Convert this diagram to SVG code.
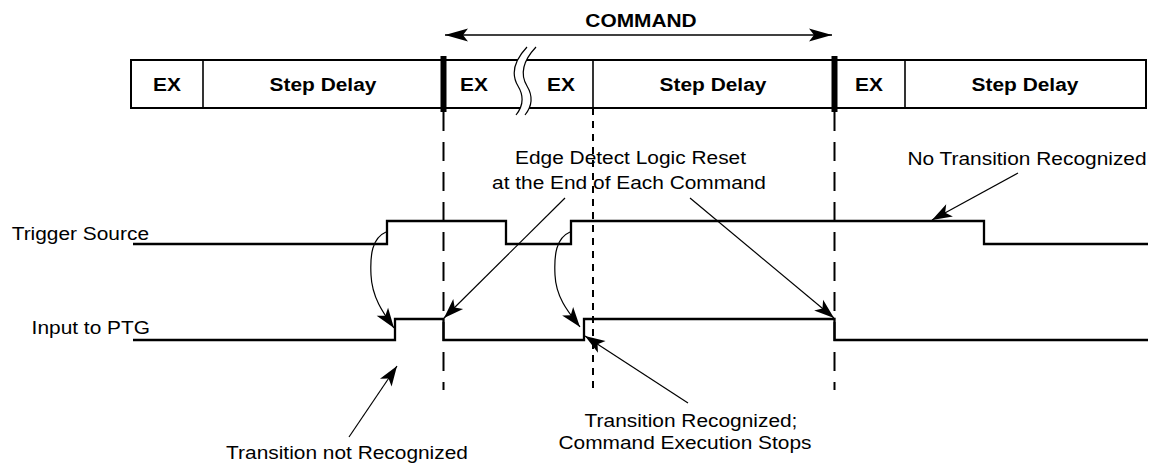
<svg xmlns="http://www.w3.org/2000/svg" width="1153" height="463" viewBox="0 0 1153 463">
<style>
text{font-family:"Liberation Sans",Arial,sans-serif;font-size:18.5px;fill:#000}
.b{font-weight:bold}
.m{text-anchor:middle}
.e{text-anchor:end}
.box{fill:#fff;stroke:#000;stroke-width:2}
.div{stroke:#000;stroke-width:1.6}
.thick{stroke:#000;stroke-width:6}
.sig{fill:none;stroke:#000;stroke-width:2.3}
.dash{stroke:#000;stroke-width:2;stroke-dasharray:19 11}
.dot{stroke:#000;stroke-width:2;stroke-dasharray:7 6}
.call{fill:none;stroke:#000;stroke-width:1.2;marker-end:url(#ah)}
</style>
<defs>
<marker id="ah" markerUnits="userSpaceOnUse" viewBox="-21 -8 22 16" markerWidth="22" markerHeight="16" refX="0" refY="0" orient="auto">
<path d="M0,0 L-20,-7 L-15,0 L-20,7 Z" fill="#000"/>
</marker>
<marker id="big" markerUnits="userSpaceOnUse" viewBox="-24 -8 25 16" markerWidth="25" markerHeight="16" refX="0" refY="0" orient="auto-start-reverse">
<path d="M0,0 L-23,-6.5 L-18,0 L-23,6.5 Z" fill="#000"/>
</marker>
</defs>

<g id="command-bar">
<rect class="box" x="131" y="60" width="1015" height="48"/>
<line class="div" x1="203" y1="60" x2="203" y2="108"/>
<line class="div" x1="593" y1="60" x2="593" y2="108"/>
<line class="div" x1="905" y1="60" x2="905" y2="108"/>
<line class="thick" x1="443.5" y1="56" x2="443.5" y2="112"/>
<line class="thick" x1="834.5" y1="56" x2="834.5" y2="112"/>
<path d="M527,47 C512,63 512,76 518,86 C524,96 524,105 516,115 L525,115 C533,105 533,96 527,86 C521,76 521,63 536,47 Z" fill="#fff" stroke="none"/>
<path d="M527,47 C512,63 512,76 518,86 C524,96 524,105 516,115" fill="none" stroke="#000" stroke-width="1.2"/>
<path d="M536,47 C521,63 521,76 527,86 C533,96 533,105 525,115" fill="none" stroke="#000" stroke-width="1.2"/>
</g>

<g id="cell-ex1"><text class="b m" transform="translate(167,90.5) scale(1.13,1)">EX</text></g>
<g id="cell-step1"><text class="b m" transform="translate(323,90.5) scale(1.13,1)">Step Delay</text></g>
<g id="cell-ex2"><text class="b m" transform="translate(474,90.5) scale(1.13,1)">EX</text></g>
<g id="cell-ex3"><text class="b m" transform="translate(561,90.5) scale(1.13,1)">EX</text></g>
<g id="cell-step2"><text class="b m" transform="translate(713,90.5) scale(1.13,1)">Step Delay</text></g>
<g id="cell-ex4"><text class="b m" transform="translate(869,90.5) scale(1.13,1)">EX</text></g>
<g id="cell-step3"><text class="b m" transform="translate(1025,90.5) scale(1.13,1)">Step Delay</text></g>

<g id="command-label"><text class="b m" transform="translate(641,26.5) scale(1.13,1)">COMMAND</text></g>

<g id="guides">
<line class="dash" x1="443.5" y1="112" x2="443.5" y2="390"/>
<line class="dot" x1="593" y1="108" x2="593" y2="390"/>
<line class="dash" x1="834.5" y1="112" x2="834.5" y2="390"/>
</g>

<g id="trigger-source">
<text class="e" transform="translate(149,240) scale(1.13,1)">Trigger Source</text>
<path class="sig" d="M133,244 H387 V221 H506 V244 H571 V221 H984 V244 H1148"/>
</g>

<g id="input-to-ptg">
<text class="e" transform="translate(150,334) scale(1.13,1)">Input to PTG</text>
<path class="sig" d="M133,340 H395 V319 H443.5 V340 H584 V319 H834.5 V340 H1148"/>
</g>

<g id="note-edge">
<text class="m" transform="translate(630.5,164) scale(1.13,1)">Edge Detect Logic Reset</text>
<text class="m" transform="translate(629,189) scale(1.13,1)">at the End of Each Command</text>
</g>
<g id="note-no-transition"><text class="m" transform="translate(1027,165) scale(1.13,1)">No Transition Recognized</text></g>
<g id="note-recognized">
<text class="m" transform="translate(691,427) scale(1.13,1)">Transition Recognized;</text>
<text class="m" transform="translate(685,448.5) scale(1.13,1)">Command Execution Stops</text>
</g>
<g id="note-not-recognized"><text class="m" transform="translate(347,459) scale(1.13,1)">Transition not Recognized</text></g>

<g id="connectors">
<line x1="445" y1="35" x2="832" y2="35" stroke="#000" stroke-width="1.5" marker-start="url(#big)" marker-end="url(#big)"/>
<path class="call" d="M386,232 C372,238 370,255 371,275 C372,298 384,314 394,328"/>
<path class="call" d="M570,232 C556,238 554,255 555,275 C556,298 569,313 580,327"/>
<line class="call" x1="565" y1="198" x2="444" y2="318"/>
<line class="call" x1="690" y1="198" x2="834" y2="318"/>
<line class="call" x1="1018" y1="173" x2="932" y2="220"/>
<line class="call" x1="349" y1="437" x2="397" y2="366"/>
<line class="call" x1="688" y1="403" x2="585" y2="336"/>
</g>
</svg>
